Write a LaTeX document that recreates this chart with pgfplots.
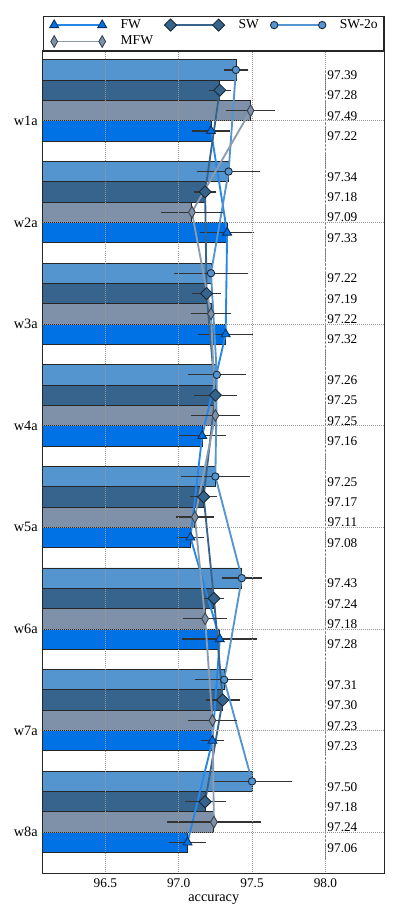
\documentclass[border=0pt]{standalone}
\usepackage{pgfplots}
\usepackage{pgfplotstable}
\pgfplotsset{compat=1.18}
\usepackage{fontspec}
\setmainfont{Liberation Serif}

\definecolor{cFW}{HTML}{0072E5}
\definecolor{cMFW}{HTML}{7E91A8}
\definecolor{cSW}{HTML}{37648C}
\definecolor{cSWO}{HTML}{5495CF}
\definecolor{cErr}{HTML}{333333}

% pos: 8 = w1a ... 1 = w8a
\pgfplotstableread{
pos fw    fwe   mfw   mfwe  sw    swe   swo   swoe
8   97.22 0.108 97.49 0.150 97.28 0.055 97.39 0.065
7   97.33 0.166 97.09 0.190 97.18 0.058 97.34 0.194
6   97.32 0.167 97.22 0.120 97.19 0.077 97.22 0.232
5   97.16 0.142 97.25 0.150 97.25 0.127 97.26 0.177
4   97.08 0.074 97.11 0.111 97.17 0.073 97.25 0.218
3   97.28 0.236 97.18 0.130 97.24 0.050 97.43 0.117
2   97.23 0.060 97.23 0.150 97.30 0.095 97.31 0.177
1   97.06 0.107 97.24 0.300 97.18 0.120 97.50 0.250
}\results

\begin{document}
\begin{tikzpicture}
\begin{axis}[
  scale only axis,
  width=239.4pt, height=575.4pt,
  xmin=96.073, xmax=98.405,
  ymin=0.596, ymax=8.686,
  xtick={96.5,97,97.5,98},
  /pgf/number format/assume math mode=true,
  xticklabel style={/pgf/number format/fixed, /pgf/number format/fixed zerofill,
    /pgf/number format/precision=1, font=\fontsize{9.3}{11}\selectfont},
  ytick={1,...,8},
  yticklabels={w8a,w7a,w6a,w5a,w4a,w3a,w2a,w1a},
  tick style={draw=none},
  xmajorgrids, ymajorgrids,
  grid style={densely dotted, gray!80},
  axis on top,
  axis line style={black!85, line width=0.8pt},
  xlabel={accuracy},
  xlabel style={yshift=1.5pt},
  legend columns=3,
  legend style={at={(0,1)}, anchor=south west, draw=black!85, line width=0.8pt,
    fill=white, inner xsep=4.5pt, inner ysep=2pt,
    font=\fontsize{9.5}{11}\selectfont,
    nodes={inner sep=0pt, anchor=west, text height=6.5pt, text depth=2pt},
    row sep=3pt,
    /tikz/every odd column/.append style={column sep=9.8pt},
    /tikz/every even column/.append style={column sep=8pt}},
  legend image code/.code={\draw[#1, mark repeat=1, mark phase=1] plot coordinates {(0pt,0pt) (33.6pt,0pt)};},
]
% bars
\addplot[xbar, bar width=0.2, bar shift=0pt, fill=cFW, draw=black!85, line width=0.6pt, forget plot]
  table[x=fw, y expr=\thisrow{pos}-0.1] {\results};
\addplot[xbar, bar width=0.2, bar shift=0pt, fill=cMFW, draw=black!85, line width=0.6pt, forget plot]
  table[x=mfw, y expr=\thisrow{pos}+0.1] {\results};
\addplot[xbar, bar width=0.2, bar shift=0pt, fill=cSW, draw=black!85, line width=0.6pt, forget plot]
  table[x=sw, y expr=\thisrow{pos}+0.3] {\results};
\addplot[xbar, bar width=0.2, bar shift=0pt, fill=cSWO, draw=black!85, line width=0.6pt, forget plot]
  table[x=swo, y expr=\thisrow{pos}+0.5] {\results};

% reference line at 98
\draw[black!55, line width=0.5pt, dash pattern=on 2pt off 0.6pt] (axis cs:98,8.50) -- (axis cs:98,0.744);

% lines with markers and error bars
\addplot[color=cFW!85!white, line width=1.3pt, mark=triangle*, mark size=3.6pt,
  mark options={fill=cFW, draw=black!60!cFW, line width=0.6pt},
  error bars/.cd, x dir=both, x explicit,
  error bar style={cErr, line width=0.9pt},
  error mark options={cErr, mark size=2pt, line width=0.9pt}]
  table[x=fw, y expr=\thisrow{pos}-0.1, x error=fwe] {\results};
\addlegendentry{FW}
\addplot[color=cSW, line width=1.3pt, mark=square*, mark size=3pt,
  mark options={rotate=45, fill=cSW, draw=black!60!cSW, line width=0.6pt},
  error bars/.cd, x dir=both, x explicit,
  error bar style={cErr, line width=0.9pt},
  error mark options={cErr, mark size=2pt, line width=0.9pt}]
  table[x=sw, y expr=\thisrow{pos}+0.3, x error=swe] {\results};
\addlegendentry{SW}
\addplot[color=cSWO, line width=1.3pt, mark=*, mark size=2.6pt,
  mark options={fill=cSWO, draw=black!60!cSW, line width=0.6pt},
  error bars/.cd, x dir=both, x explicit,
  error bar style={cErr, line width=0.9pt},
  error mark options={cErr, mark size=2pt, line width=0.9pt}]
  table[x=swo, y expr=\thisrow{pos}+0.5, x error=swoe] {\results};
\addlegendentry{SW-2o}
\addplot[color=cMFW!90!white, line width=1.3pt, mark=diamond*, mark size=4.1pt,
  mark options={xscale=0.77, fill=cMFW, draw=black!55!cMFW, line width=0.6pt},
  error bars/.cd, x dir=both, x explicit,
  error bar style={cErr, line width=0.9pt},
  error mark options={cErr, mark size=2pt, line width=0.9pt}]
  table[x=mfw, y expr=\thisrow{pos}+0.1, x error=mfwe] {\results};
\addlegendentry{MFW}

% value labels
\addplot[draw=none, forget plot, nodes near coords, point meta=explicit symbolic,
  nodes near coords style={font=\fontsize{9.3}{11}\selectfont, anchor=center, yshift=-3.8pt, text=black}]
  table[x expr=98.116, y expr=\thisrow{pos}-0.1, meta=fw] {\results};
\addplot[draw=none, forget plot, nodes near coords, point meta=explicit symbolic,
  nodes near coords style={font=\fontsize{9.3}{11}\selectfont, anchor=center, yshift=-3.8pt, text=black}]
  table[x expr=98.116, y expr=\thisrow{pos}+0.1, meta=mfw] {\results};
\addplot[draw=none, forget plot, nodes near coords, point meta=explicit symbolic,
  nodes near coords style={font=\fontsize{9.3}{11}\selectfont, anchor=center, yshift=-3.8pt, text=black}]
  table[x expr=98.116, y expr=\thisrow{pos}+0.3, meta=sw] {\results};
\addplot[draw=none, forget plot, nodes near coords, point meta=explicit symbolic,
  nodes near coords style={font=\fontsize{9.3}{11}\selectfont, anchor=center, yshift=-3.8pt, text=black}]
  table[x expr=98.116, y expr=\thisrow{pos}+0.5, meta=swo] {\results};
\end{axis}
\pgfresetboundingbox
\path ([xshift=-29.9pt, yshift=-30.6pt]current axis.south west) rectangle ([xshift=10.3pt, yshift=35.7pt]current axis.north east);
\end{tikzpicture}
\end{document}
